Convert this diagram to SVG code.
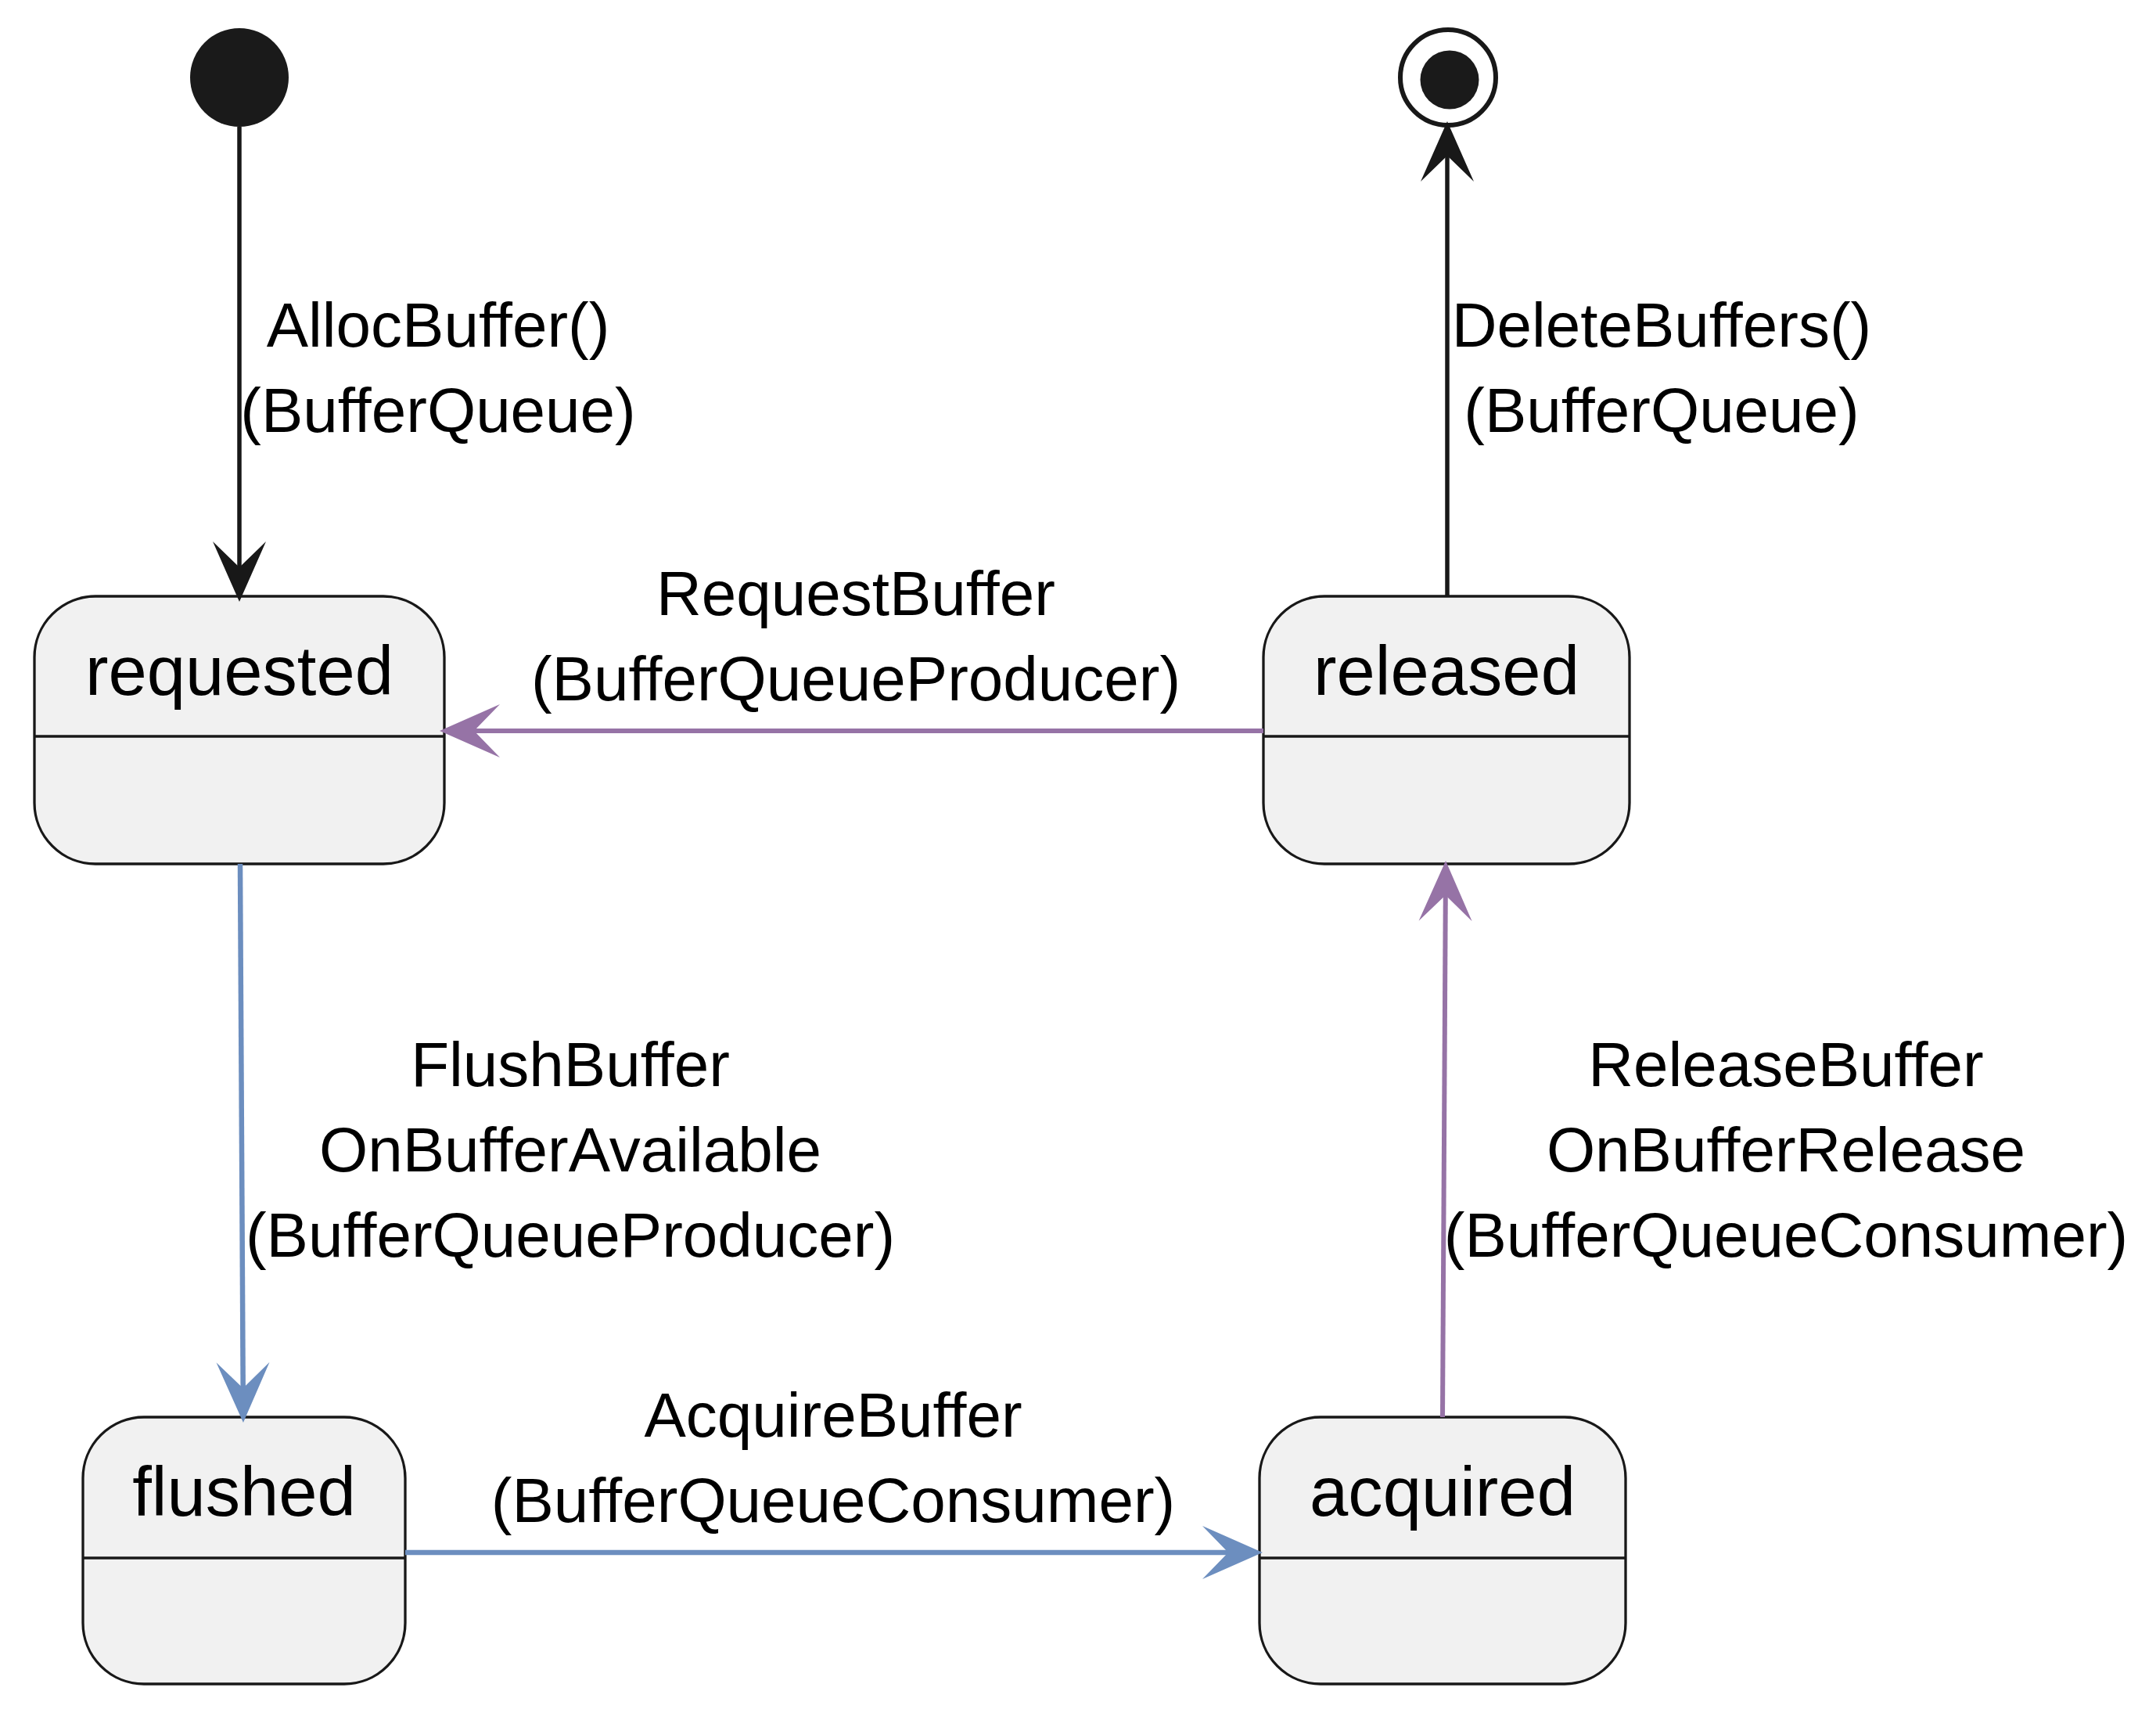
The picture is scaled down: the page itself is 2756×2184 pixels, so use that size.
<svg xmlns="http://www.w3.org/2000/svg" width="2756" height="2184" viewBox="0 0 2756 2184">
<style>
.st{fill:#F1F1F1;stroke:#181818;stroke-width:3.3}
.dv{stroke:#181818;stroke-width:3.3}
.nm{font-family:"Liberation Sans",Arial,sans-serif;font-size:88.6px;fill:#000;text-anchor:middle}
.lb{font-family:"Liberation Sans",Arial,sans-serif;font-size:80px;fill:#000;text-anchor:middle}
.ck{fill:none;stroke:#181818;stroke-width:5.5}
.cb{fill:none;stroke:#6C8EBF;stroke-width:6.5}
.cp{fill:none;stroke:#9673A6;stroke-width:6}
</style>
<defs>
<marker id="ak" markerUnits="userSpaceOnUse" viewBox="-40 -40 90 80" refX="0" refY="0" markerWidth="90" markerHeight="80" orient="auto"><path d="M44,0 L-33,-34 L0,0 L-33,34 Z" fill="#181818"/></marker>
<marker id="abl" markerUnits="userSpaceOnUse" viewBox="-40 -40 90 80" refX="0" refY="0" markerWidth="90" markerHeight="80" orient="auto"><path d="M44,0 L-33,-34 L0,0 L-33,34 Z" fill="#6C8EBF"/></marker>
<marker id="apu" markerUnits="userSpaceOnUse" viewBox="-40 -40 90 80" refX="0" refY="0" markerWidth="90" markerHeight="80" orient="auto"><path d="M44,0 L-33,-34 L0,0 L-33,34 Z" fill="#9673A6"/></marker>
</defs>
<rect width="2756" height="2184" fill="#FFFFFF"/>
<g id="start"><circle cx="306" cy="99" r="63" fill="#1A1A1A"/></g>
<g id="end"><circle cx="1851" cy="99" r="61" fill="none" stroke="#181818" stroke-width="6"/><circle cx="1853" cy="102" r="37.5" fill="#1A1A1A"/></g>
<g id="requested"><rect class="st" x="44" y="762" width="524" height="342" rx="78" ry="78"/><line class="dv" x1="44" y1="941" x2="568" y2="941"/><text class="nm" x="306" y="888">requested</text></g>
<g id="released"><rect class="st" x="1615" y="762" width="468" height="342" rx="78" ry="78"/><line class="dv" x1="1615" y1="941" x2="2083" y2="941"/><text class="nm" x="1849" y="888">released</text></g>
<g id="flushed"><rect class="st" x="106" y="1811" width="412" height="341" rx="78" ry="78"/><line class="dv" x1="106" y1="1991" x2="518" y2="1991"/><text class="nm" x="312" y="1937">flushed</text></g>
<g id="acquired"><rect class="st" x="1610" y="1811" width="468" height="341" rx="78" ry="78"/><line class="dv" x1="1610" y1="1991" x2="2078" y2="1991"/><text class="nm" x="1844" y="1937">acquired</text></g>
<g id="connectors">
<path class="ck" d="M306,162 L306,725" marker-end="url(#ak)"/>
<path class="ck" d="M1850,762 L1850,199" marker-end="url(#ak)"/>
<path class="cp" d="M1615,934 L606,934" marker-end="url(#apu)"/>
<path class="cb" d="M307,1104 L310.7,1774" marker-end="url(#abl)"/>
<path class="cb" d="M518,1984 L1570,1984" marker-end="url(#abl)"/>
<path class="cp" d="M1844,1811 L1847.8,1144" marker-end="url(#apu)"/>
<text class="lb" x="560" y="443">AllocBuffer()</text>
<text class="lb" x="560" y="552">(BufferQueue)</text>
<text class="lb" x="2124" y="443">DeleteBuffers()</text>
<text class="lb" x="2124" y="552">(BufferQueue)</text>
<text class="lb" x="1094" y="786">RequestBuffer</text>
<text class="lb" x="1094" y="895">(BufferQueueProducer)</text>
<text class="lb" x="729" y="1388">FlushBuffer</text>
<text class="lb" x="729" y="1497">OnBufferAvailable</text>
<text class="lb" x="729" y="1606">(BufferQueueProducer)</text>
<text class="lb" x="2283" y="1388">ReleaseBuffer</text>
<text class="lb" x="2283" y="1497">OnBufferRelease</text>
<text class="lb" x="2283" y="1606">(BufferQueueConsumer)</text>
<text class="lb" x="1065" y="1836">AcquireBuffer</text>
<text class="lb" x="1065" y="1945">(BufferQueueConsumer)</text>
</g>
</svg>
